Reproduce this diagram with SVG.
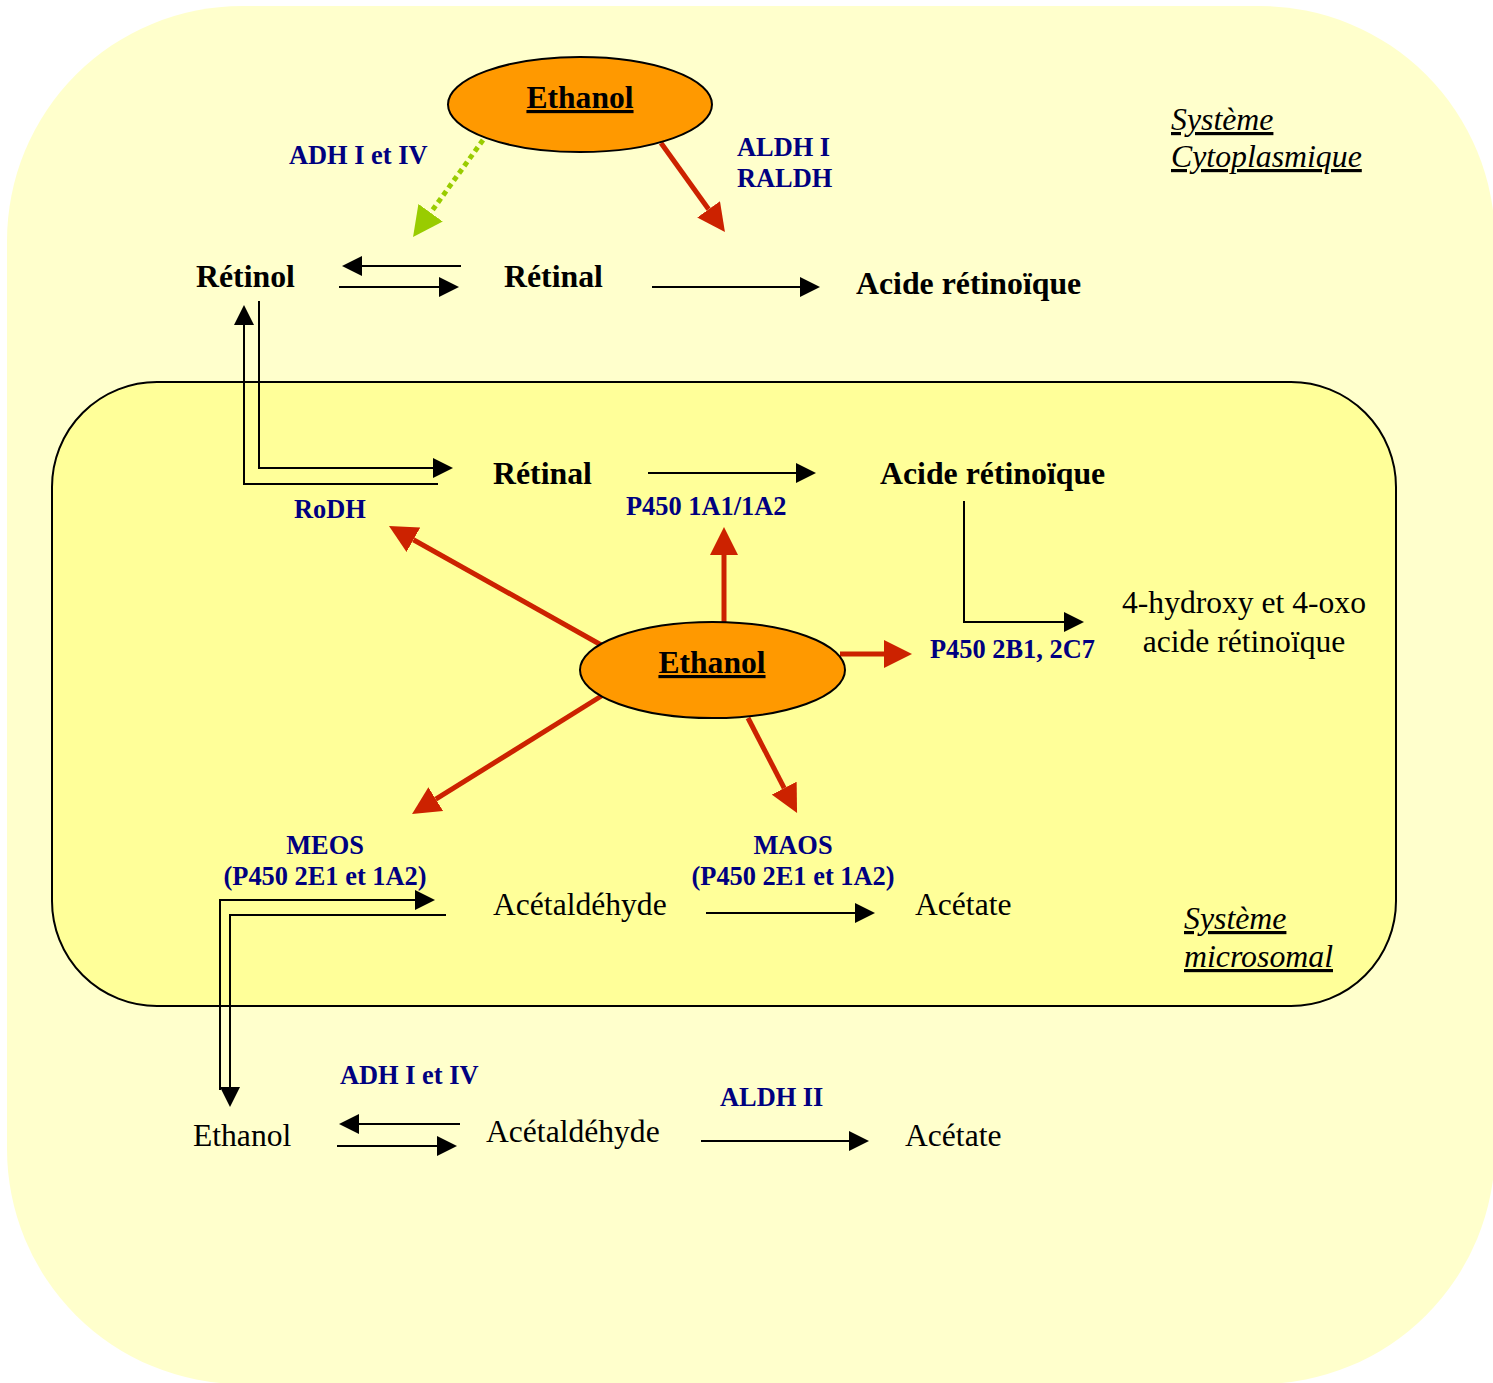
<svg xmlns="http://www.w3.org/2000/svg" width="1493" height="1383" viewBox="0 0 1493 1383">
<defs>
<style>
text{font-family:"Liberation Serif","Times New Roman",serif;}
.b{font-size:31.8px;font-weight:bold;fill:#000;}
.n{font-size:31.6px;fill:#000;}
.e{font-size:26.4px;font-weight:bold;fill:#000080;}
.sys{font-size:31.8px;font-style:italic;text-decoration:underline;fill:#000;}
.eth{font-size:31.6px;font-weight:bold;text-decoration:underline;fill:#000;}
.blk{fill:none;stroke:#000;stroke-width:2;}
.red{fill:none;stroke:#CC2200;stroke-width:5;}
.grn{fill:none;stroke:#99CC00;stroke-width:5;stroke-dasharray:5 4;}
.ell{fill:#FF9900;stroke:#000;stroke-width:2;}
</style>
<marker id="ab" markerUnits="userSpaceOnUse" viewBox="0 -10 20 20" refX="0" refY="0" markerWidth="20" markerHeight="20" orient="auto"><path d="M0,-10 L20,0 L0,10 z" fill="#000"/></marker>
<marker id="ar" markerUnits="userSpaceOnUse" viewBox="0 -14 28 28" refX="0" refY="0" markerWidth="28" markerHeight="28" orient="auto"><path d="M0,-14 L28,0 L0,14 z" fill="#CC2200"/></marker>
<marker id="ag" markerUnits="userSpaceOnUse" viewBox="0 -15 30 30" refX="0" refY="0" markerWidth="30" markerHeight="30" orient="auto"><path d="M0,-15 L30,0 L0,15 z" fill="#99CC00"/></marker>
</defs>

<g id="cytoplasm">
<rect x="7" y="6" width="1488" height="1378" rx="235" ry="235" fill="#FFFFCC"/>
<text class="sys" x="1171" y="130">Système</text>
<text class="sys" x="1171" y="167">Cytoplasmique</text>
</g>

<g id="microsome">
<rect x="52" y="382" width="1344" height="624" rx="105" ry="105" fill="#FFFF99" stroke="#000" stroke-width="2"/>
<text class="sys" x="1184" y="929">Système</text>
<text class="sys" x="1184" y="967">microsomal</text>
</g>

<g id="connectors">
<line class="grn" x1="483" y1="140" x2="430.6" y2="212.7" marker-end="url(#ag)"/>
<line class="red" x1="661" y1="143" x2="708.6" y2="209.3" marker-end="url(#ar)"/>
<line class="blk" x1="461" y1="266" x2="362" y2="266" marker-end="url(#ab)"/>
<line class="blk" x1="339" y1="287" x2="439" y2="287" marker-end="url(#ab)"/>
<line class="blk" x1="652" y1="287" x2="800" y2="287" marker-end="url(#ab)"/>
<path class="blk" d="M438,484 H244 V325" marker-end="url(#ab)"/>
<path class="blk" d="M259,301 V468 H433" marker-end="url(#ab)"/>
<line class="blk" x1="648" y1="473" x2="796" y2="473" marker-end="url(#ab)"/>
<path class="blk" d="M964,501 V622 H1064" marker-end="url(#ab)"/>
<line class="red" x1="603" y1="646" x2="413.4" y2="539.7" marker-end="url(#ar)"/>
<line class="red" x1="724" y1="622" x2="724" y2="555" marker-end="url(#ar)"/>
<line class="red" x1="840" y1="654" x2="884" y2="654" marker-end="url(#ar)"/>
<line class="red" x1="603" y1="695" x2="435.8" y2="799.2" marker-end="url(#ar)"/>
<line class="red" x1="748" y1="718" x2="784.2" y2="788.1" marker-end="url(#ar)"/>
<path class="blk" d="M220,1090 V900 H415" marker-end="url(#ab)"/>
<path class="blk" d="M446,915 H230 V1087" marker-end="url(#ab)"/>
<line class="blk" x1="706" y1="913" x2="855" y2="913" marker-end="url(#ab)"/>
<line class="blk" x1="460" y1="1124" x2="359" y2="1124" marker-end="url(#ab)"/>
<line class="blk" x1="337" y1="1146" x2="437" y2="1146" marker-end="url(#ab)"/>
<line class="blk" x1="701" y1="1141" x2="849" y2="1141" marker-end="url(#ab)"/>
</g>

<g id="ethanol-top">
<ellipse class="ell" cx="580" cy="104.5" rx="132" ry="47.5"/>
<text class="eth" x="580" y="108" text-anchor="middle">Ethanol</text>
</g>
<g id="ethanol-mid">
<ellipse class="ell" cx="712.5" cy="670" rx="132.5" ry="48"/>
<text class="eth" x="712" y="673" text-anchor="middle">Ethanol</text>
</g>

<g id="enzymes">
<text class="e" x="289" y="164">ADH I et IV</text>
<text class="e" x="737" y="156">ALDH I</text>
<text class="e" x="737" y="187">RALDH</text>
<text class="e" x="294" y="518">RoDH</text>
<text class="e" x="626" y="515">P450 1A1/1A2</text>
<text class="e" x="930" y="658">P450 2B1, 2C7</text>
<text class="e" x="325" y="854" text-anchor="middle">MEOS</text>
<text class="e" x="325" y="885" text-anchor="middle">(P450 2E1 et 1A2)</text>
<text class="e" x="793" y="854" text-anchor="middle">MAOS</text>
<text class="e" x="793" y="885" text-anchor="middle">(P450 2E1 et 1A2)</text>
<text class="e" x="340" y="1084">ADH I et IV</text>
<text class="e" x="720" y="1106">ALDH II</text>
</g>

<g id="retinol-top"><text class="b" x="196" y="287">Rétinol</text></g>
<g id="retinal-top"><text class="b" x="504" y="287">Rétinal</text></g>
<g id="acide-top"><text class="b" x="856" y="294">Acide rétinoïque</text></g>
<g id="retinal-mid"><text class="b" x="493" y="484">Rétinal</text></g>
<g id="acide-mid"><text class="b" x="880" y="484">Acide rétinoïque</text></g>
<g id="hydroxy">
<text class="n" x="1244" y="613" text-anchor="middle">4-hydroxy et 4-oxo</text>
<text class="n" x="1244" y="652" text-anchor="middle">acide rétinoïque</text>
</g>
<g id="acetaldehyde-mid"><text class="n" x="493" y="915">Acétaldéhyde</text></g>
<g id="acetate-mid"><text class="n" x="915" y="915">Acétate</text></g>
<g id="ethanol-bottom"><text class="n" x="193" y="1146">Ethanol</text></g>
<g id="acetaldehyde-bottom"><text class="n" x="486" y="1142">Acétaldéhyde</text></g>
<g id="acetate-bottom"><text class="n" x="905" y="1146">Acétate</text></g>
</svg>
